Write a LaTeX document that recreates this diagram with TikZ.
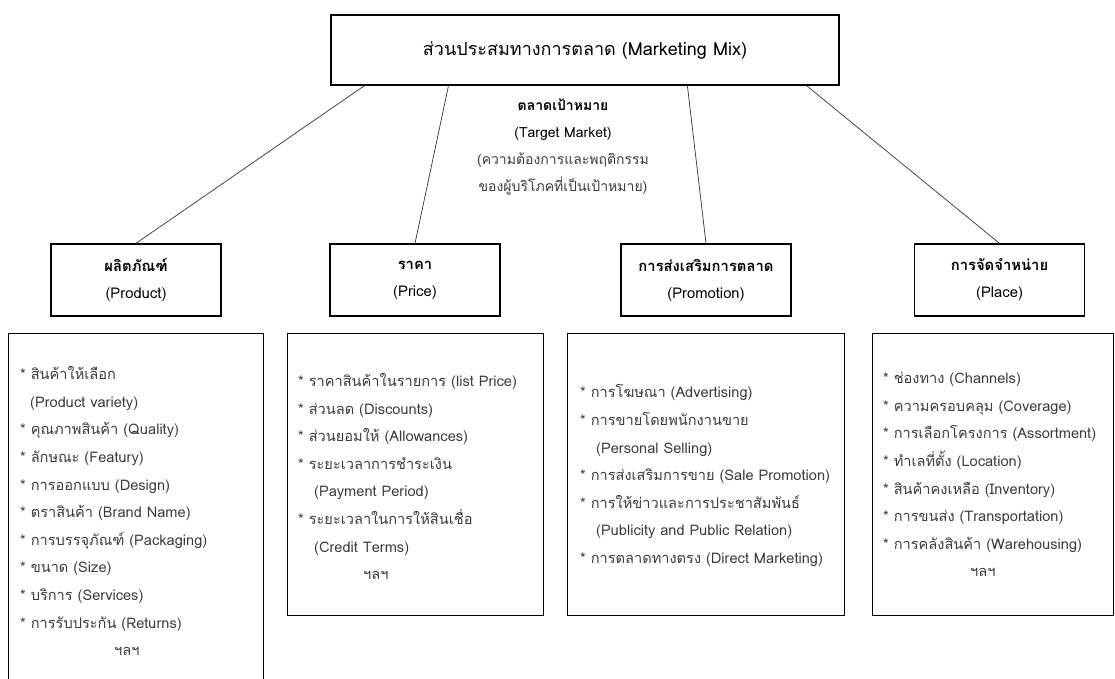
\documentclass[tikz,border=0pt]{standalone}
\usepackage{fontspec}
\setmainfont[Script=Thai]{Loma}
\usetikzlibrary{calc}
\definecolor{txtgray}{HTML}{3C3C3C}
\tikzset{
  topbox/.style={draw=black, line width=1.3pt, minimum width=508pt, minimum height=70pt, inner sep=0pt, font=\fontsize{18}{22}\selectfont},
  headbox/.style={draw=black, line width=1.3pt, minimum width=170pt, minimum height=72pt, inner sep=0pt, align=center, font=\fontsize{14.8}{27}\selectfont},
  listbox/.style={draw=black, line width=1.2pt, inner sep=0pt, anchor=north west},
  listtext/.style={anchor=west, align=left, text=txtgray, font=\fontsize{14.6}{27.6}\selectfont, inner sep=0pt},
  midtext/.style={align=center, font=\fontsize{14}{26.7}\selectfont, inner sep=0pt},
  conn/.style={draw=black!80, line width=0.7pt},
}
\begin{document}
\begin{tikzpicture}[x=1pt,y=-1pt]
\useasboundingbox (0,0) rectangle (1115,678);
\clip (0,0) rectangle (1115,678);
% top
\node[topbox] (top) at (585,50) {ส่วนประสมทางการตลาด (Marketing Mix)};
% target market
\node[midtext] (target) at (563,147) {\textbf{ตลาดเป้าหมาย}\\(Target Market)\\{\color{txtgray}(ความต้องการและพฤติกรรม}\\{\color{txtgray}ของผู้บริโภคที่เป็นเป้าหมาย)}};
% headers
\node[headbox] (prod) at (136,280) {\textbf{ผลิตภัณฑ์}\\(Product)};
\node[headbox] (price) at (415,280) {\textbf{ราคา}\\(Price)};
\node[headbox] (promo) at (706,280) {\textbf{การส่งเสริมการตลาด}\\(Promotion)};
\node[headbox] (place) at (999.5,280) {\textbf{การจัดจำหน่าย}\\(Place)};
% connectors
\draw[conn] ($(top.south west)!0.067!(top.south east)$) -- (prod.north);
\draw[conn] ($(top.south west)!0.232!(top.south east)$) -- (price.north);
\draw[conn] ($(top.south west)!0.701!(top.south east)$) -- (promo.north);
\draw[conn] ($(top.south west)!0.935!(top.south east)$) -- (place.north);
% list boxes
\node[listbox, minimum width=255pt, minimum height=355pt] (prodlist) at (8,333) {};
\node[listbox, minimum width=256pt, minimum height=282pt] (pricelist) at (287,333) {};
\node[listbox, minimum width=277pt, minimum height=282pt] (promolist) at (567,333) {};
\node[listbox, minimum width=241pt, minimum height=282pt] (placelist) at (872,333) {};
% list texts
\node[listtext] (prodtxt) at ($(prodlist.west)+(12,0)$) {%
* สินค้าให้เลือก\\
\hspace*{10pt}(Product variety)\\
* คุณภาพสินค้า (Quality)\\
* ลักษณะ (Featury)\\
* การออกแบบ (Design)\\
* ตราสินค้า (Brand Name)\\
* การบรรจุภัณฑ์ (Packaging)\\
* ขนาด (Size)\\
* บริการ (Services)\\
* การรับประกัน (Returns)\\
\hspace*{94pt}ฯลฯ};
\node[listtext] (pricetxt) at ($(pricelist.west)+(11,2)$) {%
* ราคาสินค้าในรายการ (list Price)\\
* ส่วนลด (Discounts)\\
* ส่วนยอมให้ (Allowances)\\
* ระยะเวลาการชำระเงิน\\
\hspace*{16pt}(Payment Period)\\
* ระยะเวลาในการให้สินเชื่อ\\
\hspace*{16pt}(Credit Terms)\\
\hspace*{65pt}ฯลฯ};
\node[listtext] (promotxt) at ($(promolist.west)+(13,1)$) {%
* การโฆษณา (Advertising)\\
* การขายโดยพนักงานขาย\\
\hspace*{16pt}(Personal Selling)\\
* การส่งเสริมการขาย (Sale Promotion)\\
* การให้ข่าวและการประชาสัมพันธ์\\
\hspace*{16pt}(Publicity and Public Relation)\\
* การตลาดทางตรง (Direct Marketing)};
\node[listtext] (placetxt) at ($(placelist.west)+(11,0)$) {%
* ช่องทาง (Channels)\\
* ความครอบคลุม (Coverage)\\
* การเลือกโครงการ (Assortment)\\
* ทำเลที่ตั้ง (Location)\\
* สินค้าคงเหลือ (Inventory)\\
* การขนส่ง (Transportation)\\
* การคลังสินค้า (Warehousing)\\
\hspace*{87pt}ฯลฯ};
\end{tikzpicture}
\end{document}
